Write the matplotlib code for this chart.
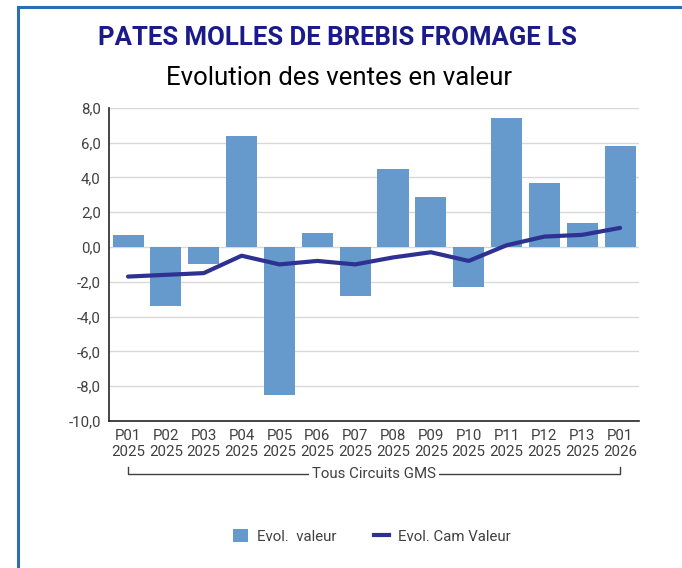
import matplotlib
matplotlib.use("Agg")
import matplotlib.pyplot as plt
from matplotlib.lines import Line2D
from matplotlib.patches import Patch
from matplotlib import transforms

plt.rcParams['font.family'] = ['Roboto', 'DejaVu Sans']

# data
periods = ["P01\n2025", "P02\n2025", "P03\n2025", "P04\n2025", "P05\n2025", "P06\n2025",
           "P07\n2025", "P08\n2025", "P09\n2025", "P10\n2025", "P11\n2025", "P12\n2025",
           "P13\n2025", "P01\n2026"]
evol_valeur = [0.7, -3.4, -1.0, 6.4, -8.5, 0.8, -2.8, 4.5, 2.9, -2.3, 7.4, 3.7, 1.4, 5.8]
evol_cam = [-1.7, -1.6, -1.5, -0.5, -1.0, -0.8, -1.0, -0.6, -0.3, -0.8, 0.1, 0.6, 0.7, 1.1]
yticks = [-10, -8, -6, -4, -2, 0, 2, 4, 6, 8]

bar_color = "#6699cc"
line_color = "#2e3192"
text_gray = "#404040"

fig = plt.figure(figsize=(6.82, 5.68), dpi=100)
ax = fig.add_axes([0.160, 0.259, 0.777, 0.551])

x = range(len(periods))
ax.bar(x, evol_valeur, width=0.82, color=bar_color, zorder=2)
ax.plot(x, evol_cam, color=line_color, lw=3, zorder=3, solid_capstyle="round")

ax.set_xlim(-0.5, len(periods) - 0.5)
ax.set_ylim(-10, 8)
ax.set_yticks(yticks)
ax.set_yticklabels([f"{v:.1f}".replace(".", ",") for v in yticks])
ax.set_xticks(list(x))
ax.set_xticklabels(periods, linespacing=1.2)
ax.tick_params(axis="both", length=0, labelsize=10.8, colors=text_gray, pad=6)
ax.grid(axis="y", color="#d9d9d9", lw=1, zorder=0)
for s in ["top", "right"]:
    ax.spines[s].set_visible(False)
for s in ["left", "bottom"]:
    ax.spines[s].set_color("#262626")
    ax.spines[s].set_linewidth(1.2)

# group bracket under the x labels
trans = transforms.blended_transform_factory(ax.transData, ax.transAxes)
ax.plot([0, 0, len(periods) - 1, len(periods) - 1], [-0.146, -0.171, -0.171, -0.146],
        color="#404040", lw=1, transform=trans, clip_on=False)
ax.text((len(periods) - 1) / 2, -0.171, "Tous Circuits GMS", transform=trans,
        ha="center", va="center", fontsize=10.8, color=text_gray,
        bbox=dict(facecolor="white", edgecolor="none", pad=2))

# titles
fig.text(0.495, 0.933, "PATES MOLLES DE BREBIS FROMAGE LS", ha="center", va="center",
         fontsize=18.5, fontweight="bold", color="#1a1a8a")
fig.text(0.497, 0.863, "Evolution des ventes en valeur", ha="center", va="center",
         fontsize=18.5, color="black")

# legend
handles = [Patch(facecolor=bar_color, edgecolor="none"),
           Line2D([0], [0], color=line_color, lw=3)]
fig.legend(handles, ["Evol.  valeur", "Evol. Cam Valeur"], loc="center",
           bbox_to_anchor=(0.545, 0.056), ncol=2, frameon=False, fontsize=10.8,
           labelcolor=text_gray, handlelength=1.0, handleheight=1.0, columnspacing=2.5,
           handletextpad=0.6)

# blue frame
fig.add_artist(Line2D([0.026, 1.0], [0.988, 0.988], color="#2e6db4", lw=2.2,
                      transform=fig.transFigure))
fig.add_artist(Line2D([0.026, 0.026], [0.988, 0.0], color="#2e6db4", lw=2.2,
                      transform=fig.transFigure))

fig.savefig("out.png", dpi=100)
